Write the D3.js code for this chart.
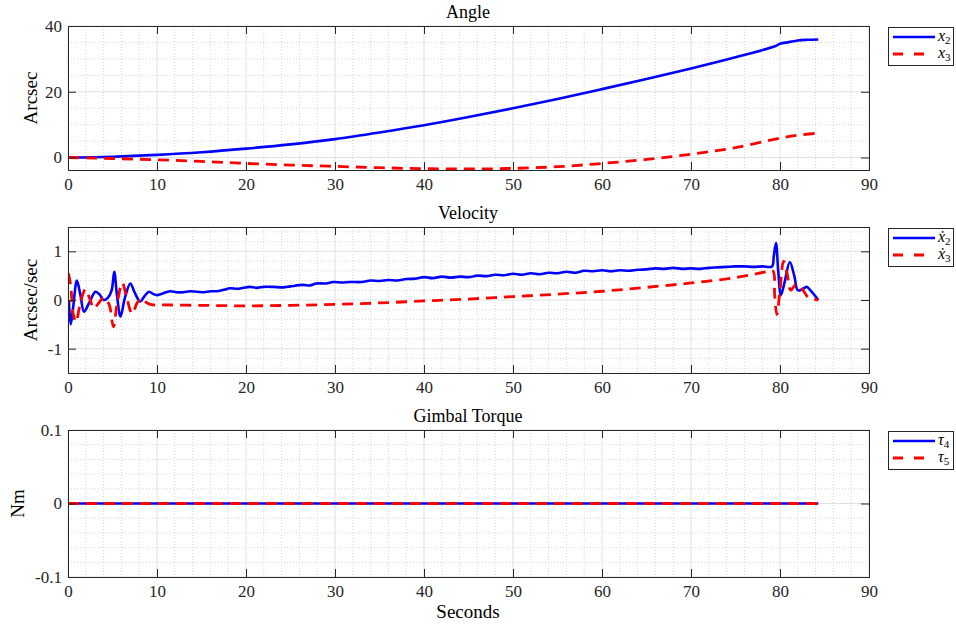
<!DOCTYPE html>
<html>
<head>
<meta charset="utf-8">
<script src="https://cdn.jsdelivr.net/npm/d3@7/dist/d3.min.js"></script>
<style>
  body { margin: 0; background: #fff; }
  svg { font-family: "Liberation Serif", "DejaVu Serif", serif; }
</style>
</head>
<body>
<div class="chart"></div>
<script>
var svgWidth = 956;
var svgHeight = 628;

// shared time axis
var xTicks = [0, 10, 20, 30, 40, 50, 60, 70, 80, 90];

// Angle panel
var angleT2 = [0, 5, 10, 15, 20, 25, 30, 35, 40, 45, 50, 55, 60, 65, 70, 75, 79.5, 80, 81, 82, 83, 84.3];
var angleX2 = [0, 0.25, 0.8, 1.6, 2.7, 4.0, 5.6, 7.6, 9.8, 12.3, 15.0, 17.8, 20.8, 23.9, 27.1, 30.5, 33.9, 34.6, 35.1, 35.6, 35.8, 35.9];
var angleT3 = [0, 5, 10, 15, 20, 25, 30, 35, 40, 45, 50, 55, 60, 65, 70, 75, 80, 82, 84.3];
var angleX3 = [0, -0.3, -0.7, -1.2, -1.8, -2.3, -2.7, -3.1, -3.4, -3.5, -3.3, -2.8, -1.8, -0.6, 1.0, 3.0, 5.9, 6.8, 7.4];

// Velocity panel
var velT2 = [0.1, 0.3, 0.55, 1.0, 1.4, 1.8, 2.4, 3.1, 3.6, 4.0, 4.5, 4.9, 5.2, 5.5, 5.9, 6.4, 7.0, 7.5, 8.1, 8.6, 9.1, 9.6,
  10, 11, 11.5, 12.2, 13, 13.7, 14.5, 15.3, 16, 16.7, 17.5, 18.2, 19, 19.7, 20.4, 21.2, 22, 23, 24.2, 25, 26.4, 27.2, 27.9,
  29, 29.8, 30.8, 31.7, 33, 34, 35, 36, 37, 38, 39, 40, 41, 42, 43, 44, 45, 46, 47, 48, 49, 50, 51, 52, 53, 54, 55, 56,
  57, 58, 59, 60, 61, 62, 63, 64, 65, 66, 67, 68, 69, 70, 71, 72, 73, 74, 75, 76, 77, 78, 79.1, 79.3, 79.55, 79.8, 80.1,
  80.5, 81.1, 81.6, 82.0, 82.5, 83.0, 83.5, 84.3];
var velX2 = [0, -0.5, -0.2, 0.4, 0.1, -0.24, -0.05, 0.17, 0.1, 0.0, 0.05, 0.2, 0.58, 0.1, -0.34, 0.05, 0.34, 0.15, -0.03, 0.08, 0.17, 0.12,
  0.10, 0.16, 0.18, 0.16, 0.16, 0.18, 0.17, 0.16, 0.18, 0.18, 0.21, 0.24, 0.23, 0.25, 0.27, 0.25, 0.27, 0.27, 0.26, 0.28, 0.31, 0.30, 0.34,
  0.34, 0.37, 0.36, 0.37, 0.37, 0.40, 0.39, 0.41, 0.40, 0.43, 0.44, 0.47, 0.45, 0.48, 0.46, 0.48, 0.47, 0.50, 0.49, 0.52, 0.51, 0.54, 0.52, 0.55, 0.53, 0.56, 0.55, 0.58,
  0.56, 0.60, 0.59, 0.61, 0.59, 0.61, 0.60, 0.62, 0.63, 0.65, 0.64, 0.66, 0.64, 0.65, 0.64, 0.66, 0.67, 0.68, 0.69, 0.69, 0.68, 0.69, 0.69, 0.9, 1.17, 0.6, 0.1,
  0.35, 0.78, 0.5, 0.2, 0.22, 0.27, 0.18, 0.0];
var velT3 = [0.05, 0.3, 0.6, 0.9, 1.4, 1.95, 2.4, 2.9, 3.5, 4.0, 4.6, 5.1, 5.5, 6.1, 6.6, 7.2, 7.8, 8.3, 8.8, 9.5,
  10, 15, 20, 25, 30, 35, 40, 45, 50, 55, 60, 65, 70, 75, 78.5, 79.2, 79.4, 79.65, 80.0, 80.4, 80.8, 81.2, 81.8, 82.4, 83.2, 84.3];
var velX3 = [0.55, 0.3, -0.3, -0.45, -0.05, 0.22, 0.05, -0.17, -0.05, 0.05, -0.08, -0.55, -0.1, 0.35, 0.05, -0.28, -0.05, 0.03, -0.05, -0.1,
  -0.1, -0.11, -0.12, -0.11, -0.09, -0.06, -0.02, 0.02, 0.07, 0.12, 0.18, 0.26, 0.35, 0.46, 0.58, 0.6, 0.1, -0.3, 0.2, 0.8, 0.55, 0.2, 0.32, 0.25, 0.05, 0.0];

// Gimbal torque panel
var torqueT = [0, 84.3];
var torque4 = [0, 0];
var torque5 = [0, 0];

var svg = d3.select(".chart")
  .append("svg")
  .attr("width", svgWidth)
  .attr("height", svgHeight);

var xScale = d3.scaleLinear().domain([0, 90]).range([68, 869]);

var axisColor = "#262626";
var serif = "'Liberation Serif', 'DejaVu Serif', serif";

function zip(t, v) {
  return t.map((d, i) => [d, v[i]]);
}

function drawPanel(p) {
  var yScale = d3.scaleLinear().domain(p.yDomain).range([p.bottom, p.top]);
  var g = svg.append("g");

  // minor grid
  var xMinor = d3.range(0, 90.01, 2).filter(d => d % 10 !== 0);
  var yMinor = d3.range(Math.ceil(p.yDomain[0] / p.yMinor) * p.yMinor, p.yDomain[1] + 1e-9, p.yMinor)
    .filter(d => !p.yTicks.some(t => Math.abs(t - d) < 1e-9));
  g.selectAll(".xminor").data(xMinor).enter().append("line")
    .attr("x1", d => xScale(d)).attr("x2", d => xScale(d))
    .attr("y1", p.top).attr("y2", p.bottom)
    .attr("stroke", "#d6d6d6").attr("stroke-dasharray", "1,2");
  g.selectAll(".yminor").data(yMinor).enter().append("line")
    .attr("x1", 68).attr("x2", 869)
    .attr("y1", d => yScale(d)).attr("y2", d => yScale(d))
    .attr("stroke", "#d6d6d6").attr("stroke-dasharray", "1,2");

  // major grid
  g.selectAll(".xgrid").data(xTicks).enter().append("line")
    .attr("x1", d => xScale(d)).attr("x2", d => xScale(d))
    .attr("y1", p.top).attr("y2", p.bottom)
    .attr("stroke", "#e0e0e0");
  g.selectAll(".ygrid").data(p.yTicks).enter().append("line")
    .attr("x1", 68).attr("x2", 869)
    .attr("y1", d => yScale(d)).attr("y2", d => yScale(d))
    .attr("stroke", "#e0e0e0");

  // data lines
  var line = d3.line().x(d => xScale(d[0])).y(d => yScale(d[1]))
    .curve(d3.curveCatmullRom.alpha(0.5));
  var clipId = "clip" + p.top;
  svg.append("clipPath").attr("id", clipId).append("rect")
    .attr("x", 68).attr("y", p.top).attr("width", 801).attr("height", p.bottom - p.top);
  var lines = g.append("g").attr("clip-path", `url(#${clipId})`);
  lines.append("path").datum(zip(p.t1, p.v1))
    .attr("d", line).attr("fill", "none")
    .attr("stroke", "#0000ff").attr("stroke-width", 2.6)
    .attr("stroke-linejoin", "round");
  lines.append("path").datum(zip(p.t2, p.v2))
    .attr("d", line).attr("fill", "none")
    .attr("stroke", "#ff0000").attr("stroke-width", 2.8)
    .attr("stroke-dasharray", "11,7");

  // axes (box with inward ticks on all sides)
  var bottomAxis = d3.axisBottom(xScale).tickValues(xTicks).tickSize(-8).tickPadding(8)
    .tickFormat(d3.format("d"));
  var leftAxis = d3.axisLeft(yScale).tickValues(p.yTicks).tickSize(-8).tickPadding(6)
    .tickFormat(p.fmt);
  var topAxis = d3.axisTop(xScale).tickValues(xTicks).tickSize(-8).tickFormat("");
  var rightAxis = d3.axisRight(yScale).tickValues(p.yTicks).tickSize(-8).tickFormat("");

  var ax = [
    g.append("g").attr("transform", `translate(0, ${p.bottom})`).call(bottomAxis),
    g.append("g").attr("transform", "translate(68, 0)").call(leftAxis),
    g.append("g").attr("transform", `translate(0, ${p.top})`).call(topAxis),
    g.append("g").attr("transform", "translate(869, 0)").call(rightAxis)
  ];
  ax.forEach(a => {
    a.attr("font-family", serif).attr("font-size", 17);
    a.select(".domain").attr("stroke", axisColor);
    a.selectAll(".tick line").attr("stroke", axisColor);
    a.selectAll("text").attr("fill", axisColor);
  });

  // title
  g.append("text")
    .attr("x", 468).attr("y", p.top - 8)
    .attr("text-anchor", "middle")
    .attr("font-size", 18)
    .attr("fill", "#000")
    .text(p.title);

  // y label
  g.append("text")
    .attr("transform", `translate(${p.ylabelX}, ${(p.top + p.bottom) / 2}) rotate(-90)`)
    .attr("text-anchor", "middle")
    .attr("font-size", 19)
    .attr("fill", "#000")
    .text(p.ylabel);

  // legend
  var lg = g.append("g").attr("transform", `translate(888, ${p.top + 1})`);
  lg.append("rect").attr("x", 0.5).attr("y", 0.5).attr("width", 65).attr("height", 38)
    .attr("fill", "#fff").attr("stroke", axisColor);
  lg.append("line").attr("x1", 5).attr("x2", 47).attr("y1", 10).attr("y2", 10)
    .attr("stroke", "#0000ff").attr("stroke-width", 2.6);
  lg.append("line").attr("x1", 5).attr("x2", 47).attr("y1", 27).attr("y2", 27)
    .attr("stroke", "#ff0000").attr("stroke-width", 2.8).attr("stroke-dasharray", "10,11");
  p.legend.forEach((lab, i) => {
    var tx = lg.append("text").attr("x", 50).attr("y", 14 + i * 17)
      .attr("font-size", 16).attr("fill", "#000");
    tx.append("tspan").attr("font-style", "italic").text(lab[0]);
    tx.append("tspan").attr("dy", 3).attr("font-size", 11).text(lab[1]);
  });
}

drawPanel({
  top: 26, bottom: 170, yDomain: [-3.8, 40], yTicks: [0, 20, 40], yMinor: 5,
  fmt: d3.format("d"), title: "Angle", ylabel: "Arcsec", ylabelX: 37,
  t1: angleT2, v1: angleX2, t2: angleT3, v2: angleX3,
  legend: [["x", "2"], ["x", "3"]]
});

drawPanel({
  top: 227, bottom: 373, yDomain: [-1.5, 1.5], yTicks: [-1, 0, 1], yMinor: 0.2,
  fmt: d => d < 0 ? "-" + Math.abs(d) : String(d), title: "Velocity", ylabel: "Arcsec/sec", ylabelX: 37,
  t1: velT2, v1: velX2, t2: velT3, v2: velX3,
  legend: [["\u1E8B", "2"], ["\u1E8B", "3"]]
});

drawPanel({
  top: 430, bottom: 577, yDomain: [-0.1, 0.1], yTicks: [-0.1, 0, 0.1], yMinor: 0.02,
  fmt: d => d === 0 ? "0" : (d < 0 ? "-" : "") + Math.abs(d).toFixed(1), title: "Gimbal Torque", ylabel: "Nm", ylabelX: 24,
  t1: torqueT, v1: torque4, t2: torqueT, v2: torque5,
  legend: [["\u03C4", "4"], ["\u03C4", "5"]]
});

// x axis label on bottom panel
svg.append("text")
  .attr("x", 468).attr("y", 618)
  .attr("text-anchor", "middle")
  .attr("font-size", 19)
  .attr("fill", "#000")
  .text("Seconds");
</script>
</body>
</html>
